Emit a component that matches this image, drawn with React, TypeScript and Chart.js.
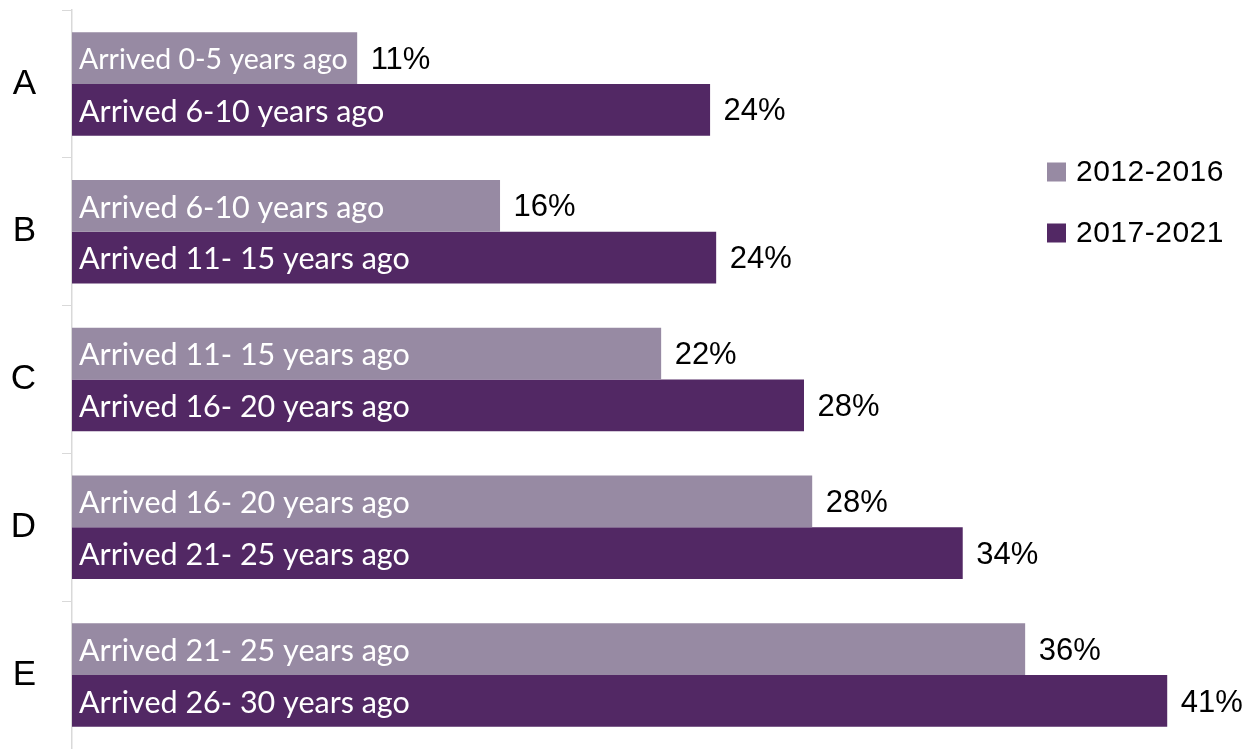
import React, { useEffect, useRef } from "react";
import { Chart, registerables } from "chart.js";

Chart.register(...registerables);

const categories = ["A", "B", "C", "D", "E"];
const seriesNames = ["2012-2016", "2017-2021"];
const values2012 = [10.78, 16.18, 22.27, 27.98, 36.03];
const values2017 = [24.12, 24.35, 27.67, 33.67, 41.4];
const valueLabels2012 = ["11%", "16%", "22%", "28%", "36%"];
const valueLabels2017 = ["24%", "24%", "28%", "34%", "41%"];
const barLabels2012 = [
  "Arrived 0-5 years ago",
  "Arrived 6-10 years ago",
  "Arrived 11- 15 years ago",
  "Arrived 16- 20 years ago",
  "Arrived 21- 25 years ago",
];
const barLabels2017 = [
  "Arrived 6-10 years ago",
  "Arrived 11- 15 years ago",
  "Arrived 16- 20 years ago",
  "Arrived 21- 25 years ago",
  "Arrived 26- 30 years ago",
];

const colors = ["#978aa3", "#522864"];
const innerFont = "Lato";
const valueFont = "'Liberation Sans', Arial, sans-serif";

const labelPlugin = {
  id: "barLabels",
  afterDatasetsDraw(chart: any) {
    const ctx = chart.ctx as CanvasRenderingContext2D;
    const inner = [barLabels2012, barLabels2017];
    const vals = [valueLabels2012, valueLabels2017];
    chart.data.datasets.forEach((_ds: any, di: number) => {
      const meta = chart.getDatasetMeta(di);
      meta.data.forEach((bar: any, i: number) => {
        const { x, y, base } = bar.getProps(["x", "y", "base"], true);
        ctx.save();
        ctx.textBaseline = "middle";
        ctx.textAlign = "left";
        ctx.fillStyle = "#ffffff";
        const size = di === 0 && i === 0 ? 28.5 : 30.5;
        ctx.font = `${size}px ${innerFont}`;
        ctx.fillText(inner[di][i], base + 7, y + 2);
        ctx.fillStyle = "#000000";
        ctx.font = `31px ${valueFont}`;
        ctx.fillText(vals[di][i], x + 13.5, y + 2);
        ctx.restore();
      });
    });
    // legend
    ctx.save();
    const ys = [172, 233];
    seriesNames.forEach((name, k) => {
      ctx.fillStyle = colors[k];
      ctx.fillRect(1047, ys[k] - 9.5, 19, 19);
      ctx.fillStyle = "#000000";
      ctx.font = `30px ${valueFont}`;
      ctx.textBaseline = "middle";
      ctx.textAlign = "left";
      (ctx as any).letterSpacing = "0.5px";
      ctx.fillText(name, 1076, ys[k] + 1);
    });
    ctx.restore();
  },
};

export default function App() {
  const ref = useRef<HTMLCanvasElement | null>(null);

  useEffect(() => {
    document.body.style.margin = "0";
    if (!ref.current) return;
    const chart = new Chart(ref.current, {
      type: "bar",
      data: {
        labels: categories,
        datasets: [
          {
            label: seriesNames[0],
            data: values2012,
            backgroundColor: colors[0],
            categoryPercentage: 0.7,
            barPercentage: 1.0,
          },
          {
            label: seriesNames[1],
            data: values2017,
            backgroundColor: colors[1],
            categoryPercentage: 0.7,
            barPercentage: 1.0,
          },
        ],
      },
      options: {
        indexAxis: "y",
        animation: false,
        responsive: true,
        maintainAspectRatio: false,
        layout: { padding: { top: 10, right: 10, bottom: 0, left: 12 } },
        plugins: {
          legend: { display: false },
          tooltip: { enabled: false },
        },
        scales: {
          x: { display: false, min: 0, max: 44 },
          y: {
            afterFit: (scale: any) => {
              scale.paddingTop = 0;
              scale.paddingBottom = 0;
              scale.width = 60;
            },
            grid: {
              display: true,
              drawOnChartArea: false,
              drawTicks: true,
              tickLength: 10,
              color: "#d9d9d9",
              offset: true,
            },
            border: { display: true, color: "#d9d9d9", width: 1.5 },
            ticks: {
              color: "#000000",
              padding: 26,
              font: { family: valueFont, size: 35 },
            },
          },
        },
      },
      plugins: [labelPlugin],
    });
    return () => chart.destroy();
  }, []);

  return (
    <div style={{ width: 1246, height: 749, position: "relative" }}>
      <canvas ref={ref} />
    </div>
  );
}
